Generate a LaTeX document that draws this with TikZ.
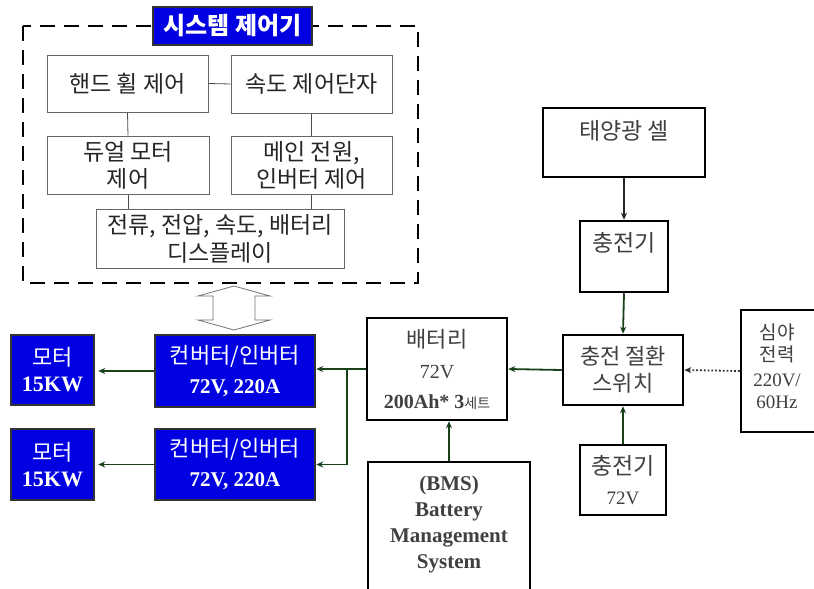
\documentclass[tikz,border=0pt]{standalone}
\usepackage{fontspec}
\setmainfont{Liberation Serif}
\newfontfamily\kr{Noto Sans CJK KR}
\usetikzlibrary{arrows.meta}
\definecolor{dkgreen}{RGB}{25,65,25}
\definecolor{myblue}{RGB}{0,0,225}
\newcommand\fsz[2]{\fontsize{#1}{#2}\selectfont}
\begin{document}
\begin{tikzpicture}[x=1pt,y=-1pt,
 ibox/.style={draw=black!60,line width=1pt,inner sep=0pt,align=center,text=black!85,font=\kr\fsz{23}{27}},
 bbox/.style={draw=black,line width=2.5pt,inner sep=0pt,align=center,text=black!75},
 bluebox/.style={draw=black!80,line width=2.5pt,fill=myblue,text=white,inner sep=0pt,align=center},
 txt/.style={inner sep=0pt,align=center,text=black!75},
 link/.style={draw=black!70,line width=0.8pt},
 arr/.style={draw=dkgreen,line width=1.8pt,-{Stealth[length=7pt,width=6pt]}},
]
\clip (0,0) rectangle (814,589);
\fill[white] (0,0) rectangle (814,589);

% system controller
\draw[line width=2.5pt,dash pattern=on 15pt off 9pt] (23,26) rectangle (418,283);
\node[bluebox,minimum width=159pt,minimum height=38pt,font=\kr\bfseries\fsz{24}{28}] (title) at (232.5,26) {시스템 제어기};

\node[ibox,minimum width=161pt,minimum height=57pt] (hw) at (127.5,83.5) {핸드 휠 제어};
\node[ibox,minimum width=161pt,minimum height=58pt] (spd) at (311.5,84) {속도 제어단자};
\node[ibox,minimum width=162pt,minimum height=58pt] (dual) at (128,165) {듀얼 모터\\제어};
\node[ibox,minimum width=161pt,minimum height=58pt] (mainp) at (311.5,165) {메인 전원,\\인버터 제어};
\node[ibox,minimum width=248pt,minimum height=59pt,font=\kr\fsz{23}{28}] (disp) at (220,238.5) {전류, 전압, 속도, 배터리\\디스플레이};

\draw[link] (hw.east) -- (spd.west);
\draw[link] (hw.south) -- (dual.north);
\draw[link] (spd.south) -- (mainp.north);
\draw[link] (dual.south) -- (dual.south |- disp.north);
\draw[link] (mainp.south) -- (mainp.south |- disp.north);

% hollow double arrow
\draw[draw=black!55,line width=0.8pt,fill=white] (234,286) -- (270,296) -- (255,296) -- (255,320) -- (270,320) -- (234,330) -- (198,320) -- (213,320) -- (213,296) -- (198,296) -- cycle;

% motors and converters
\node[bluebox,minimum width=83pt,minimum height=70pt,font=\fsz{22}{26}] (mot1) at (52.5,370) {{\kr 모터}\\{\bfseries 15KW}};
\node[bluebox,minimum width=83pt,minimum height=71pt,font=\fsz{22}{26}] (mot2) at (52.5,464.5) {{\kr 모터}\\{\bfseries 15KW}};
\node[bluebox,minimum width=160pt,minimum height=72pt,font=\fsz{22}{30}] (conv1) at (235,371) {{\kr 컨버터/인버터}\\{\bfseries\fsz{21}{30}72V, 220A}};
\node[bluebox,minimum width=160pt,minimum height=71pt,font=\fsz{22}{30}] (conv2) at (235,464.5) {{\kr 컨버터/인버터}\\{\bfseries\fsz{21}{30}72V, 220A}};

% battery
\node[bbox,minimum width=140pt,minimum height=102pt] (bat) at (437,369) {};
\node[txt,font=\fsz{20}{31}] (battxt) at (437,369) {{\kr\fsz{22}{31}배터리}\\{72V}\\[-1pt]{\bfseries\fsz{20}{31}200Ah* 3}{\kr\fsz{14}{31}세트}};

% BMS
\node[bbox,minimum width=162pt,minimum height=138pt] (bms) at (449,531) {};
\node[txt,font=\bfseries\fsz{21}{26}] (bmstxt) at (449,524) {(BMS)\\Battery\\Management\\System};

% right side
\node[bbox,minimum width=162pt,minimum height=69pt] (sun) at (624,142.5) {};
\node[txt,font=\kr\fsz{23}{26}] (suntxt) at (624,131) {태양광 셀};
\node[bbox,minimum width=88pt,minimum height=71pt] (chg1) at (624,256.5) {};
\node[txt,font=\kr\fsz{23}{26}] (chg1txt) at (624,243) {충전기};
\node[bbox,minimum width=120pt,minimum height=70pt,font=\kr\fsz{22}{27}] (sw) at (623,370) {충전 절환\\스위치};
\node[bbox,minimum width=86pt,minimum height=70pt,font=\fsz{19}{30}] (chg2) at (623,480) {{\kr\fsz{23}{30}충전기}\\72V};
\node[bbox,minimum width=89pt,minimum height=122pt] (night) at (785.5,371) {};
\node[txt,font=\fsz{19}{22.5}] (nighttxt) at (777,366) {{\kr 심야}\\{\kr 전력}\\[2pt]220V/\\60Hz};

% connectors
\draw[arr,draw=black!85] (sun.south) -- (chg1.north);
\draw[arr] (chg1.south) -- (sw.north);
\draw[arr] (chg2.north) -- (sw.south);
\draw[arr,dotted,draw=black!80] (night.west) -- (sw.east);
\draw[arr] (sw.west) -- (bat.west -| bat.east);
\draw[arr] (bms.north) -- (bms.north |- bat.south);
\coordinate (br) at (347,369);
\draw[arr] (bat.west) -- (conv1.east |- bat.west);
\draw[arr] (br) -- (br |- conv2.east) -- (conv2.east);
\draw[arr,shorten >=3pt] (conv1.west) -- (mot1.east |- conv1.west);
\draw[arr,shorten >=3pt] (conv2.west) -- (mot2.east |- conv2.west);
\end{tikzpicture}
\end{document}
